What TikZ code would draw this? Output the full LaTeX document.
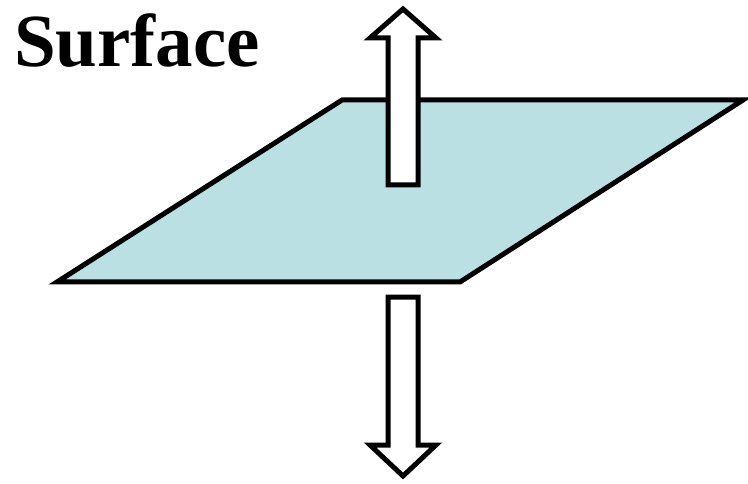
\documentclass[tikz,border=0pt]{standalone}
\usepackage{fontspec}
\setmainfont{Liberation Serif}
\definecolor{surf}{RGB}{187,224,227}
\begin{document}
\begin{tikzpicture}[x=1pt,y=-1pt,
  outline/.style={draw=black,line width=5pt,line join=miter},
  arrowbody/.style={outline,fill=white}]
\useasboundingbox (0,0) rectangle (748,484);
\coordinate (p1) at (342,100);
\coordinate (p2) at (743,100);
\coordinate (p3) at (460,282);
\coordinate (p4) at (57,282);
\draw[outline,fill=surf] (p1) -- (p2) -- (p3) -- (p4) -- cycle;
\draw[arrowbody] (388,185) -- (388,38) -- (370,38) -- (403,9) -- (436,38) -- (418,38) -- (418,185) -- cycle;
\draw[arrowbody] (388,297) -- (388,445) -- (370,445) -- (403,476) -- (436,445) -- (418,445) -- (418,297) -- cycle;
\node[anchor=base west,inner sep=0pt,font=\fontsize{75}{80}\selectfont\bfseries] (title) at (14,67) {Surface};
\end{tikzpicture}
\end{document}
